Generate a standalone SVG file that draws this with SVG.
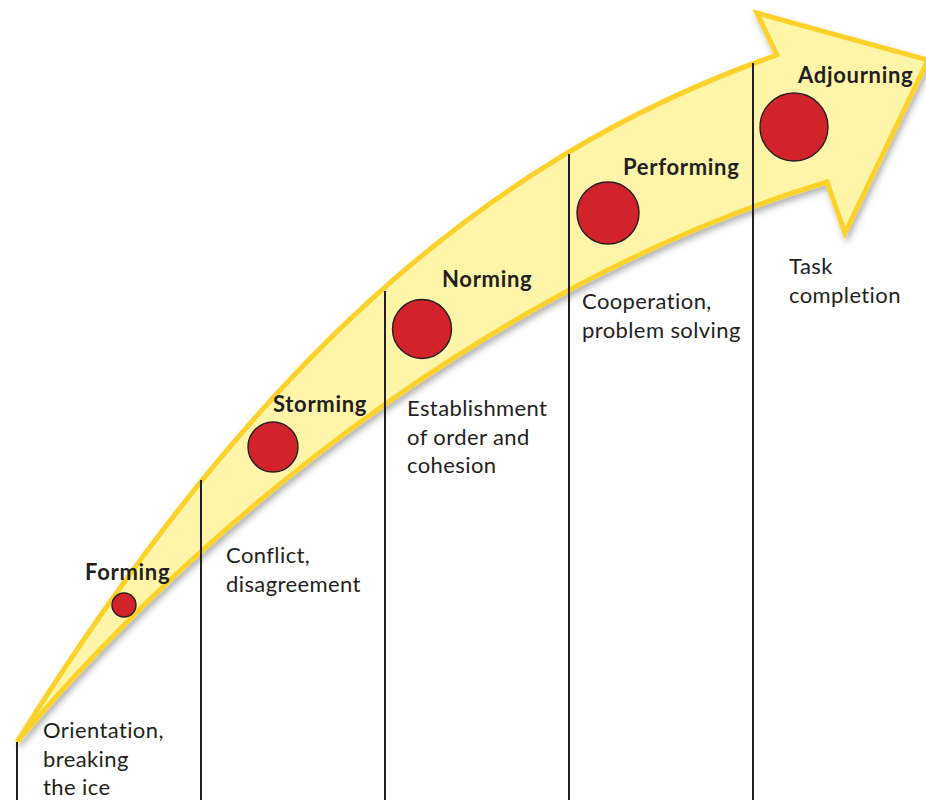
<svg xmlns="http://www.w3.org/2000/svg" width="926" height="800" viewBox="0 0 926 800">
  <defs>
    <filter id="arrowShadow" x="-10%" y="-10%" width="120%" height="120%">
      <feDropShadow dx="2" dy="4" stdDeviation="3" flood-color="#000" flood-opacity="0.3"/>
    </filter>
    <style>
      .arrow { fill: #FFF5A8; stroke: #FCD22C; stroke-width: 5; stroke-linejoin: miter; stroke-miterlimit: 12; }
      .divider { stroke: #231F20; stroke-width: 2; fill: none; }
      .dot { fill: #D2232A; stroke: #231F20; stroke-width: 1.4; }
      .stage { font-family: Lato, "Open Sans", sans-serif; font-weight: bold; font-size: 22px; letter-spacing: 0.7px; fill: #231F20; }
      .desc { font-family: Lato, "Open Sans", sans-serif; font-size: 22px; letter-spacing: 0.4px; fill: #231F20; }
    </style>
  </defs>

  <rect width="926" height="800" fill="#FFFFFF"/>

  <!-- rising curved arrow -->
  <g id="arrow" filter="url(#arrowShadow)">
    <path class="arrow" d="M17,742 C247,374 477,160 777,55 L757,13 L928,60 L845,233 L827,182 C527,272 227,492 17,742 Z"/>
  </g>

  <!-- column dividers -->
  <g id="connectors">
    <line class="divider" x1="17" y1="742" x2="17" y2="800"/>
    <line class="divider" x1="201" y1="480" x2="201" y2="800"/>
    <line class="divider" x1="385" y1="291" x2="385" y2="800"/>
    <line class="divider" x1="569" y1="154" x2="569" y2="800"/>
    <line class="divider" x1="753" y1="63" x2="753" y2="800"/>
  </g>

  <g id="forming">
    <circle class="dot" cx="124" cy="605" r="12"/>
    <text class="stage" x="85" y="580">Forming</text>
    <text class="desc" x="43" y="738">Orientation,</text>
    <text class="desc" x="43" y="767">breaking</text>
    <text class="desc" x="43" y="795">the ice</text>
  </g>

  <g id="storming">
    <circle class="dot" cx="273" cy="447" r="25"/>
    <text class="stage" x="273" y="412">Storming</text>
    <text class="desc" x="226" y="563">Conflict,</text>
    <text class="desc" x="226" y="592">disagreement</text>
  </g>

  <g id="norming">
    <circle class="dot" cx="422" cy="329" r="29.5"/>
    <text class="stage" x="442" y="287">Norming</text>
    <text class="desc" x="407" y="416">Establishment</text>
    <text class="desc" x="407" y="445">of order and</text>
    <text class="desc" x="407" y="473">cohesion</text>
  </g>

  <g id="performing">
    <circle class="dot" cx="608" cy="213" r="31"/>
    <text class="stage" x="623" y="175">Performing</text>
    <text class="desc" x="582" y="309">Cooperation,</text>
    <text class="desc" x="582" y="338">problem solving</text>
  </g>

  <g id="adjourning">
    <circle class="dot" cx="794" cy="127" r="34"/>
    <text class="stage" x="798" y="83">Adjourning</text>
    <text class="desc" x="789" y="274">Task</text>
    <text class="desc" x="789" y="303">completion</text>
  </g>
</svg>
